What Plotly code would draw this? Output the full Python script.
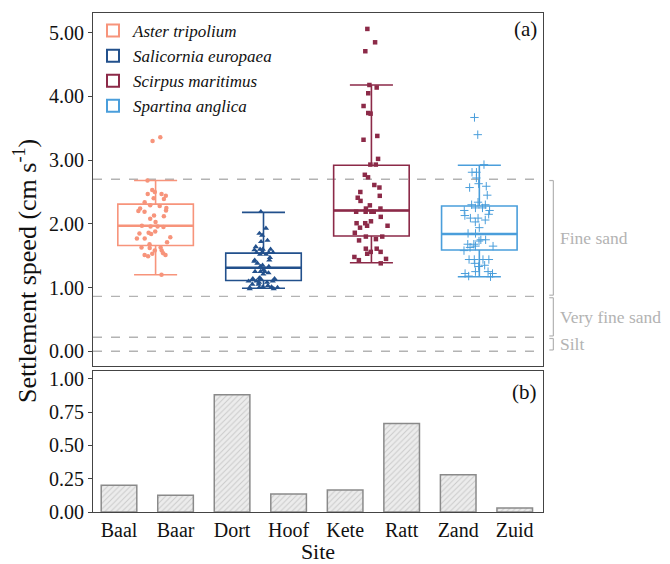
import plotly.graph_objects as go

# ---------------- data ----------------
species = ["Aster tripolium", "Salicornia europaea", "Scirpus maritimus", "Spartina anglica"]
colors = ["#F7947B", "#22508C", "#8C2A48", "#4A9EDB"]
symbols = ["circle", "triangle-up", "square", "cross-thin"]
msizes = [4.5, 5.5, 4.5, 6]

# box statistics
q1 = [1.66, 1.11, 1.81, 1.59]
median = [1.97, 1.31, 2.21, 1.84]
q3 = [2.31, 1.54, 2.92, 2.28]
lowerfence = [1.20, 0.99, 1.39, 1.17]
upperfence = [2.68, 2.18, 4.18, 2.92]

aster = [3.36, 3.30, 2.68, 2.53, 2.50, 2.47, 2.47, 2.44, 2.40, 2.39, 2.34, 2.28, 2.29,
         2.25, 2.24, 2.21, 2.20, 2.19, 2.13, 2.12, 2.08, 2.03, 1.97, 1.96, 1.96, 1.95,
         1.88, 1.86, 1.85, 1.84, 1.79, 1.77, 1.77, 1.71, 1.68, 1.63, 1.63, 1.62, 1.58,
         1.58, 1.54, 1.53, 1.51, 1.51, 1.49, 1.20]
salicornia = [2.19, 1.93, 1.85, 1.82, 1.72, 1.74, 1.64, 1.60, 1.60, 1.60, 1.59, 1.55,
              1.55, 1.55, 1.55, 1.52, 1.52, 1.47, 1.43, 1.43, 1.41, 1.38, 1.35, 1.33,
              1.33, 1.28, 1.25, 1.25, 1.25, 1.23, 1.21, 1.15, 1.14, 1.14, 1.14, 1.10,
              1.10, 1.10, 1.08, 1.08, 1.05, 1.05, 1.03, 1.01, 1.01, 1.00, 1.00, 1.00,
              0.98, 0.98]
scirpus = [5.06, 4.85, 4.71, 4.18, 4.14, 4.05, 3.85, 3.74, 3.73, 3.38, 3.32, 3.02,
           2.93, 2.93, 2.77, 2.73, 2.61, 2.57, 2.50, 2.44, 2.41, 2.36, 2.29, 2.24,
           2.24, 2.19, 2.19, 2.19, 2.19, 2.11, 2.04, 2.01, 2.01, 1.97, 1.97, 1.94,
           1.86, 1.80, 1.80, 1.76, 1.74, 1.61, 1.61, 1.56, 1.56, 1.53, 1.48, 1.45,
           1.43, 1.38]
spartina = [3.67, 3.40, 2.93, 2.81, 2.81, 2.72, 2.63, 2.59, 2.57, 2.45, 2.34, 2.30,
            2.30, 2.25, 2.25, 2.21, 2.21, 2.15, 2.13, 2.09, 2.09, 2.06, 2.03, 1.94,
            1.85, 1.85, 1.75, 1.75, 1.73, 1.68, 1.68, 1.65, 1.65, 1.63, 1.58, 1.44,
            1.44, 1.44, 1.44, 1.38, 1.35, 1.33, 1.25, 1.25, 1.22, 1.22, 1.18, 1.17]
points = [aster, salicornia, scirpus, spartina]

# sediment class thresholds (settling speed, cm/s)
thresholds = [0.0, 0.22, 0.86, 2.70]
class_names = ["Silt", "Very fine sand", "Fine sand"]

sites = ["Baal", "Baar", "Dort", "Hoof", "Kete", "Ratt", "Zand", "Zuid"]
site_values = [0.20, 0.125, 0.88, 0.135, 0.165, 0.665, 0.28, 0.03]

y_ticks_top = [0, 1, 2, 3, 4, 5]
y_ticks_bot = [0, 0.25, 0.5, 0.75, 1.0]

# ---------------- figure ----------------
FONT = "Times New Roman, Liberation Serif, serif"
AXC = "#444444"
GREY = "#b3b3b3"

fig = go.Figure()

for i, sp in enumerate(species):
    fig.add_trace(go.Box(
        x=[sp], q1=[q1[i]], median=[median[i]], q3=[q3[i]],
        lowerfence=[lowerfence[i]], upperfence=[upperfence[i]],
        name=sp, width=0.70, whiskerwidth=0.57, boxpoints=False,
        line=dict(color=colors[i], width=1.6), fillcolor="rgba(255,255,255,0)",
        xaxis="x", yaxis="y", legendgroup=sp, showlegend=True,
    ))
# thicker median bar drawn on top of each box
for i, sp in enumerate(species):
    fig.add_trace(go.Box(
        x=[sp], q1=[median[i]], median=[median[i]], q3=[median[i]],
        lowerfence=[median[i]], upperfence=[median[i]],
        name=sp, width=0.70, whiskerwidth=0, boxpoints=False,
        line=dict(color=colors[i], width=2.6), fillcolor="rgba(255,255,255,0)",
        xaxis="x", yaxis="y", legendgroup=sp, showlegend=False, hoverinfo="skip",
    ))
for i, sp in enumerate(species):
    mline = dict(width=1.0, color=colors[i]) if symbols[i] == "cross-thin" else dict(width=0)
    fig.add_trace(go.Box(
        x=[sp] * len(points[i]), y=points[i], name=sp,
        width=0.40, boxpoints="all", jitter=1.0, pointpos=0,
        line=dict(color="rgba(0,0,0,0)", width=0), fillcolor="rgba(0,0,0,0)",
        marker=dict(color=colors[i], symbol=symbols[i], size=msizes[i], line=mline),
        xaxis="x", yaxis="y", legendgroup=sp, showlegend=False,
    ))

fig.add_trace(go.Bar(
    x=sites, y=site_values, width=0.63, xaxis="x2", yaxis="y2", showlegend=False,
    marker=dict(color="#e9e9e9", line=dict(color="#8a8a8a", width=1.5),
                pattern=dict(shape="/", fgcolor="#a8a8a8", bgcolor="#ececec",
                             size=4, solidity=0.25)),
))

shapes = []
for t in thresholds:
    shapes.append(dict(type="line", xref="x domain", yref="y", x0=0, x1=1, y0=t, y1=t,
                       line=dict(color=GREY, width=1.3, dash="dash"), layer="below"))

bx0, bx1 = 1.014, 1.023
annotations = []
for k in range(3):
    lo = thresholds[k] + 0.02
    hi = thresholds[k + 1] - 0.02
    for (xa, ya, xb, yb) in [(bx0, hi, bx1, hi), (bx1, hi, bx1, lo), (bx0, lo, bx1, lo)]:
        shapes.append(dict(type="line", xref="x domain", yref="y", x0=xa, x1=xb, y0=ya, y1=yb,
                           line=dict(color=GREY, width=1.2)))
    annotations.append(dict(text=class_names[k], xref="x domain", yref="y", x=1.034,
                            y=(thresholds[k] + thresholds[k + 1]) / 2, xanchor="left",
                            yanchor="middle", showarrow=False,
                            font=dict(family=FONT, size=17.5, color=GREY)))

annotations += [
    dict(text="(a)", xref="x domain", yref="y domain", x=0.99, y=0.995, xanchor="right",
         yanchor="top", showarrow=False, font=dict(family=FONT, size=21, color="#111")),
    dict(text="(b)", xref="x2 domain", yref="y2 domain", x=0.99, y=0.95, xanchor="right",
         yanchor="top", showarrow=False, font=dict(family=FONT, size=21, color="#111")),
    dict(text="Settlement speed (cm s<sup>-1</sup>)", xref="paper", yref="paper",
         x=-0.150, y=0.482, textangle=-90, xanchor="center", yanchor="middle",
         showarrow=False, font=dict(family=FONT, size=26, color="#111")),
]

axis_common = dict(showline=True, mirror=True, linecolor=AXC, linewidth=1, showgrid=False,
                   zeroline=False, tickfont=dict(family=FONT, size=20, color="#111"))

# The page body has an 8px default margin, so the figure is drawn 8px in from the
# window's top-left corner; size and margins are set so the plot area lands where
# the reference has it within the 670x564 window.
fig.update_layout(
    width=662, height=556,
    margin=dict(l=85, r=127, t=2, b=52),
    paper_bgcolor="white", plot_bgcolor="white",
    boxmode="overlay",
    shapes=shapes, annotations=annotations,
    legend=dict(x=0.0, y=1.0, xanchor="left", yanchor="top", bgcolor="rgba(0,0,0,0)",
                font=dict(family=FONT, size=17, color="#111", style="italic"),
                tracegroupgap=0, itemsizing="constant"),
    xaxis=dict(domain=[0, 1], anchor="y", range=[-0.58, 3.59], showticklabels=False,
               ticks="", categoryorder="array", categoryarray=species, **axis_common),
    yaxis=dict(domain=[0.2928, 1], anchor="x", range=[-0.23, 5.31], tickvals=y_ticks_top,
               tickformat=".2f", ticks="outside", ticklen=4, tickcolor=AXC, **axis_common),
    xaxis2=dict(domain=[0, 1], anchor="y2", range=[-0.46, 7.5], ticks="", ticklen=0,
                categoryorder="array", categoryarray=sites,
                title=dict(text="Site", font=dict(family=FONT, size=22, color="#111"), standoff=6),
                **axis_common),
    yaxis2=dict(domain=[0, 0.2829], anchor="x2", range=[0, 1.06], tickvals=y_ticks_bot,
                tickformat=".2f", ticks="outside", ticklen=4, tickcolor=AXC, **axis_common),
)

fig.write_html("out.html")
